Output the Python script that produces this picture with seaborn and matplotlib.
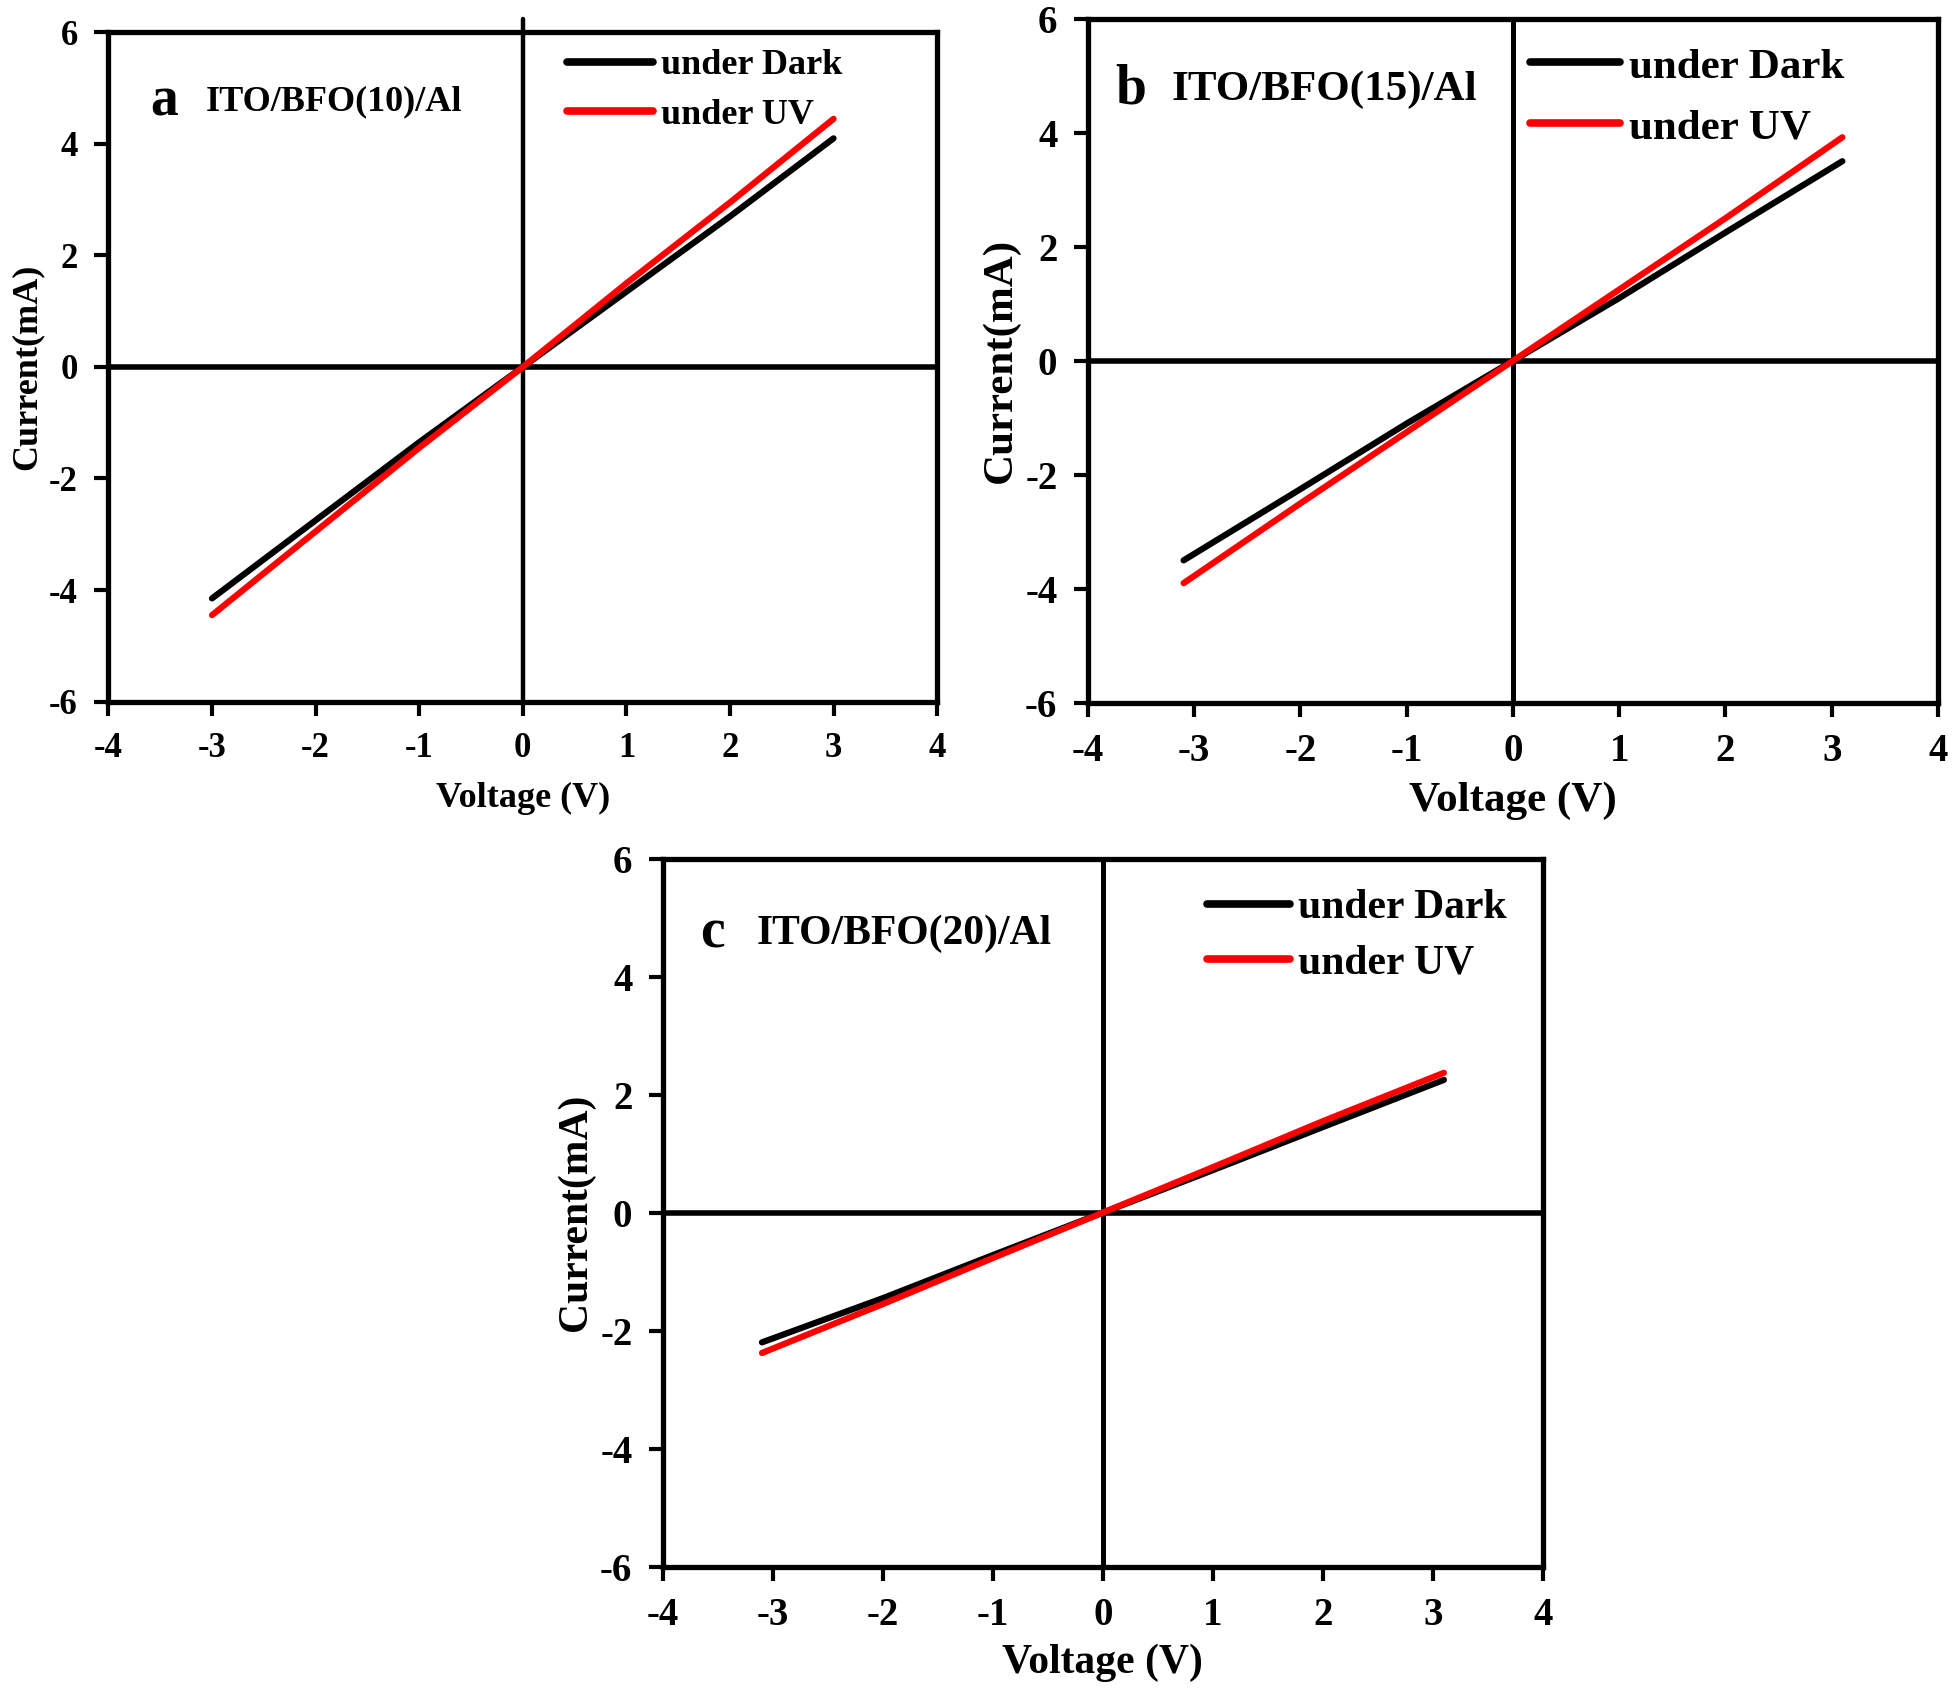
import numpy as np
import pandas as pd
import seaborn as sns
import matplotlib.pyplot as plt

# I-V data (voltage in V, current in mA)
volt_a = [-3, -2, -1, 0, 1, 2, 3]
dark_a = [-4.15, -2.75, -1.35, 0, 1.35, 2.70, 4.10]
uv_a = [-4.45, -2.95, -1.45, 0, 1.50, 2.95, 4.45]

volt_b = [-3.1, -2, -1, 0, 1, 2, 3.1]
dark_b = [-3.50, -2.25, -1.10, 0, 1.10, 2.25, 3.50]
uv_b = [-3.90, -2.50, -1.25, 0, 1.25, 2.50, 3.92]

volt_c = [-3.1, -2, -1, 0, 1, 2, 3.1]
dark_c = [-2.20, -1.45, -0.72, 0, 0.72, 1.45, 2.25]
uv_c = [-2.38, -1.55, -0.77, 0, 0.77, 1.55, 2.37]

letters = ['a', 'b', 'c']
samples = ['ITO/BFO(10)/Al', 'ITO/BFO(15)/Al', 'ITO/BFO(20)/Al']
series_names = ['under Dark', 'under UV']
line_colors = ['black', '#ff0000']

sns.set_style('ticks')
plt.rcParams['font.family'] = ['Liberation Serif', 'DejaVu Serif']
plt.rcParams['font.weight'] = 'bold'
plt.rcParams['axes.labelweight'] = 'bold'
plt.rcParams['axes.unicode_minus'] = False
plt.rcParams['text.color'] = 'black'
plt.rcParams['axes.labelcolor'] = 'black'
plt.rcParams['xtick.color'] = 'black'
plt.rcParams['ytick.color'] = 'black'
plt.rcParams['axes.edgecolor'] = 'black'

fig = plt.figure(figsize=(19.54, 16.97), dpi=100)

# axes rectangles in figure fractions, plus font sizes per panel
panels = [
    dict(rect=[0.0555, 0.5866, 0.4241, 0.3943], v=volt_a, d=dark_a, u=uv_a,
         fs=26, tfs=25, lfs=40, lpad=12, leg=(0.553, 0.975), lsp=0.45, hl=2.4,
         lab=(0.05, 0.117, 0.897)),
    dict(rect=[0.5568, 0.5858, 0.4350, 0.4032], v=volt_b, d=dark_b, u=uv_b,
         fs=31, tfs=28, lfs=40, lpad=8, leg=(0.52, 0.958), lsp=0.5, hl=2.1,
         lab=(0.032, 0.098, 0.896)),
    dict(rect=[0.3393, 0.0769, 0.4503, 0.4171], v=volt_c, d=dark_c, u=uv_c,
         fs=30, tfs=28, lfs=40, lpad=7, leg=(0.618, 0.957), lsp=0.4, hl=2.0,
         lab=(0.042, 0.106, 0.894)),
]

for i, p in enumerate(panels):
    ax = fig.add_axes(p['rect'])
    df = pd.DataFrame({'V': p['v'] * 2,
                       'I': p['d'] + p['u'],
                       'cond': [series_names[0]] * len(p['v']) + [series_names[1]] * len(p['v'])})
    sns.lineplot(data=df, x='V', y='I', hue='cond', palette=line_colors,
                 linewidth=4.5, ax=ax, zorder=3)

    ax.axhline(0, color='black', lw=4, zorder=2)
    if i == 0:
        ax.axvline(0, ymin=0, ymax=1.02, color='black', lw=3.2, zorder=2, clip_on=False)
    else:
        ax.axvline(0, color='black', lw=3.6, zorder=2)

    ax.set_xlim(-4, 4)
    ax.set_ylim(-6, 6)
    ax.set_xticks(range(-4, 5))
    ax.set_yticks(range(-6, 7, 2))
    ax.set_xlabel('Voltage (V)', fontsize=p['fs'], fontweight='bold', labelpad=p['lpad'])
    ax.set_ylabel('Current(mA)', fontsize=p['fs'], fontweight='bold', labelpad=4)
    ax.tick_params(direction='out', length=10, width=3, labelsize=p['tfs'], pad=12)
    for lbl in ax.get_xticklabels() + ax.get_yticklabels():
        lbl.set_fontweight('bold')
    for s in ax.spines.values():
        s.set_visible(True)
        s.set_linewidth(3.8)

    leg = ax.legend(loc='upper left', bbox_to_anchor=p['leg'], frameon=False,
                    fontsize=p['fs'], handlelength=p['hl'], handletextpad=0.2,
                    labelspacing=p['lsp'], borderpad=0, borderaxespad=0)
    for t in leg.get_texts():
        t.set_fontweight('bold')
    for h in leg.get_lines():
        h.set_linewidth(5.5)

    lx, tx, ly = p['lab']
    ax.text(lx, ly, letters[i], transform=ax.transAxes, fontsize=p['lfs'],
            fontweight='bold', va='center', ha='left')
    ax.text(tx, ly, samples[i], transform=ax.transAxes, fontsize=p['fs'],
            fontweight='bold', va='center', ha='left')

fig.savefig('out.png', dpi=100, facecolor='white')
